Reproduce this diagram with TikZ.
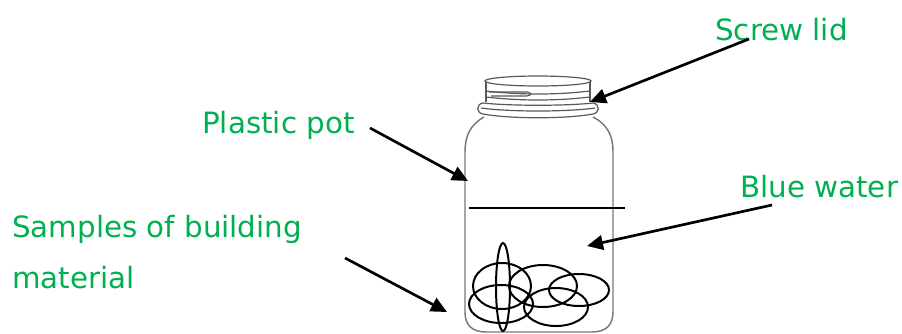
\documentclass[tikz,border=0pt]{standalone}
\usepackage{fontspec}
\newfontfamily\handfont{DejaVu Sans}
\usetikzlibrary{arrows.meta}
\definecolor{leaf}{RGB}{0,176,80}
\definecolor{glass}{RGB}{120,120,120}

\begin{document}
\begin{tikzpicture}[
  x=0.75pt, y=-0.75pt,
  lbl/.style={text=leaf, font=\handfont\fontsize{22}{38}\selectfont,
              inner sep=0pt, anchor=base west, align=left},
  ar/.style={-{Triangle[length=12pt,width=11pt]}, line width=2pt, draw=black},
  glassline/.style={draw=glass, line width=1.1pt},
  lidline/.style={draw=black!65, line width=0.9pt},
  pebble/.style={draw=black, line width=1.5pt},
]
\useasboundingbox (0,0) rectangle (902,333);

% jar body
\draw[glassline] (484,117) .. controls (470,125) and (465,136) .. (465,152)
  -- (465,312) .. controls (465,325) and (472,332) .. (486,332)
  -- (592,332) .. controls (606,332) and (613,325) .. (613,312)
  -- (613,152) .. controls (613,136) and (608,125) .. (593,117);

% collar under the lid
\draw[lidline] (483,103) .. controls (510,106) and (566,106) .. (593,103)
  .. controls (600,104) and (600,113) .. (593,114)
  .. controls (566,119) and (510,119) .. (483,114)
  .. controls (476,113) and (476,104) .. (483,103) -- cycle;
\draw[lidline] (481,108) .. controls (510,112) and (566,112) .. (595,108);

% screw lid with threads
\draw[lidline] (538,81) ellipse [x radius=53, y radius=5];
\draw[lidline] (486,82) -- (486,102);
\draw[lidline] (590,82) -- (590,102);
\draw[lidline] (486,91) .. controls (520,95) and (556,95) .. (590,91);
\draw[lidline] (486,97) .. controls (520,101) and (556,101) .. (590,97);
\draw[lidline] (489,92) -- (527,92) .. controls (532,93) and (532,95) .. (527,96) -- (491,96);

% water level
\draw[line width=1.3pt] (469,208) -- (625,208);

% building material samples
\draw[pebble] (503,287) ellipse [x radius=7,  y radius=44];
\draw[pebble] (502,286) ellipse [x radius=29, y radius=23];
\draw[pebble] (501,304) ellipse [x radius=32, y radius=19];
\draw[pebble] (543,286) ellipse [x radius=34, y radius=21];
\draw[pebble] (556,307) ellipse [x radius=32, y radius=19];
\draw[pebble] (579,290) ellipse [x radius=30, y radius=16];

% labels
\node[lbl] (lid)     at (715,40)  {Screw lid};
\node[lbl] (pot)     at (202,133) {Plastic pot};
\node[lbl] (water)   at (740,197) {Blue water};
\node[lbl] (samples) at (12,288)  {Samples of building\\material};

% arrow ends
\coordinate (lid-a)     at (749,39);
\coordinate (lid-b)     at (590,102);
\coordinate (pot-a)     at (370,128);
\coordinate (pot-b)     at (468,181);
\coordinate (water-a)   at (772,205);
\coordinate (water-b)   at (587,246);
\coordinate (samples-a) at (345,258);
\coordinate (samples-b) at (447,312);

\draw[ar] (lid-a)     -- (lid-b);
\draw[ar] (pot-a)     -- (pot-b);
\draw[ar] (water-a)   -- (water-b);
\draw[ar] (samples-a) -- (samples-b);

\end{tikzpicture}
\end{document}
